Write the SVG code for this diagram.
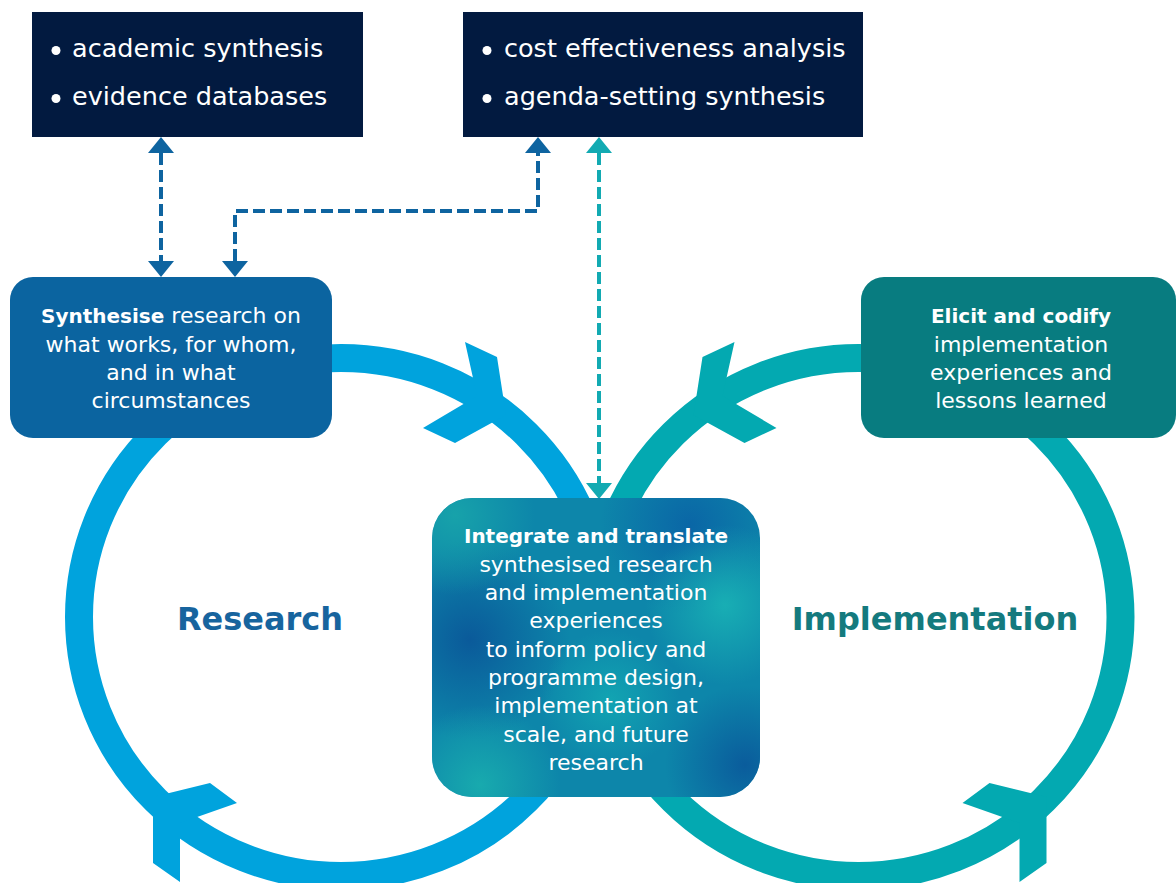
<svg xmlns="http://www.w3.org/2000/svg" width="1176" height="883" viewBox="0 0 1176 883">
<defs>
<style>
.ring{fill:none;stroke-width:28}
.navy{fill:#021a40}
.lst{font-family:"DejaVu Sans","Liberation Sans",sans-serif;font-size:25.5px;fill:#ffffff}
.bx{font-family:"DejaVu Sans","Liberation Sans",sans-serif;font-size:22px;fill:#ffffff;text-anchor:middle}
.b{font-weight:bold;font-size:20px}
.big{font-family:"DejaVu Sans","Liberation Sans",sans-serif;font-size:32px;font-weight:bold;text-anchor:middle}
.dash{fill:none;stroke-width:4;stroke-dasharray:12 5}
</style>
<radialGradient id="s1" gradientUnits="userSpaceOnUse" cx="470" cy="640" r="100"><stop offset="0" stop-color="#0a5a9a"/><stop offset="1" stop-color="#0a5a9a" stop-opacity="0"/></radialGradient>
<radialGradient id="s2" gradientUnits="userSpaceOnUse" cx="690" cy="525" r="90"><stop offset="0" stop-color="#0a66a6"/><stop offset="1" stop-color="#0a66a6" stop-opacity="0"/></radialGradient>
<radialGradient id="s3" gradientUnits="userSpaceOnUse" cx="745" cy="765" r="80"><stop offset="0" stop-color="#0a5c9c"/><stop offset="1" stop-color="#0a5c9c" stop-opacity="0"/></radialGradient>
<radialGradient id="s4" gradientUnits="userSpaceOnUse" cx="725" cy="605" r="80"><stop offset="0" stop-color="#18aeb4"/><stop offset="1" stop-color="#18aeb4" stop-opacity="0"/></radialGradient>
<radialGradient id="s5" gradientUnits="userSpaceOnUse" cx="480" cy="785" r="80"><stop offset="0" stop-color="#18aaae"/><stop offset="1" stop-color="#18aaae" stop-opacity="0"/></radialGradient>
<radialGradient id="s6" gradientUnits="userSpaceOnUse" cx="455" cy="515" r="80"><stop offset="0" stop-color="#17a2aa"/><stop offset="1" stop-color="#17a2aa" stop-opacity="0"/></radialGradient>
<radialGradient id="s7" gradientUnits="userSpaceOnUse" cx="610" cy="700" r="70"><stop offset="0" stop-color="#12a4b2"/><stop offset="1" stop-color="#12a4b2" stop-opacity="0"/></radialGradient>
<marker id="ab" viewBox="0 0 16 26" refX="0" refY="13" markerWidth="16" markerHeight="26" markerUnits="userSpaceOnUse" orient="auto-start-reverse">
<path d="M0,0 L16,13 L0,26 Z" fill="#0e64a0"/>
</marker>
<marker id="at" viewBox="0 0 16 26" refX="0" refY="13" markerWidth="16" markerHeight="26" markerUnits="userSpaceOnUse" orient="auto-start-reverse">
<path d="M0,0 L16,13 L0,26 Z" fill="#12aab2"/>
</marker>
<polygon id="headTop" points="506,415 455,443 423,428 477,396 465,342 497,357"/>
<polygon id="headBot" points="153,797 210,783 237,803 180,823 180,882 153,863"/>
<rect id="cbox" x="432" y="498" width="328" height="299" rx="40"/>
</defs>

<g id="research-cycle">
<ellipse class="ring" cx="341" cy="617" rx="262" ry="259" stroke="#00a3dd"/>
<use href="#headTop" fill="#00a3dd"/>
<use href="#headBot" fill="#00a3dd"/>
<text class="big" x="260" y="630" fill="#17649e">Research</text>
</g>

<g id="implementation-cycle">
<ellipse class="ring" cx="858.5" cy="617" rx="262" ry="259" stroke="#03a9b1"/>
<g transform="matrix(-1 0 0 1 1199.5 0)">
<use href="#headTop" fill="#03a9b1"/>
<use href="#headBot" fill="#03a9b1"/>
</g>
<text class="big" x="935" y="630" fill="#147a7e">Implementation</text>
</g>

<g id="connectors">
<path class="dash" d="M161,153 V261" stroke="#0e64a0" marker-start="url(#ab)" marker-end="url(#ab)"/>
<path class="dash" d="M235,261 V211 H538 V153" stroke="#0e64a0" marker-start="url(#ab)" marker-end="url(#ab)"/>
<path class="dash" d="M599,153 V483" stroke="#12aab2" marker-start="url(#at)" marker-end="url(#at)"/>
</g>

<g id="research-sources">
<rect class="navy" x="32" y="12" width="331" height="125"/>
<circle cx="56" cy="50.5" r="4.5" fill="#fff"/>
<circle cx="56" cy="98.5" r="4.5" fill="#fff"/>
<text class="lst" x="72" y="57">academic synthesis</text>
<text class="lst" x="72" y="105">evidence databases</text>
</g>

<g id="policy-sources">
<rect class="navy" x="463" y="12" width="400" height="125"/>
<circle cx="487" cy="50.5" r="4.5" fill="#fff"/>
<circle cx="487" cy="98.5" r="4.5" fill="#fff"/>
<text class="lst" x="504" y="57">cost effectiveness analysis</text>
<text class="lst" x="504" y="105">agenda-setting synthesis</text>
</g>

<g id="synthesise">
<rect x="10" y="277" width="322" height="161" rx="23" fill="#0b64a0"/>
<text class="bx" x="171" y="323"><tspan class="b">Synthesise</tspan> research on</text>
<text class="bx" x="171" y="352">what works, for whom,</text>
<text class="bx" x="171" y="380">and in what</text>
<text class="bx" x="171" y="408">circumstances</text>
</g>

<g id="elicit">
<rect x="861" y="277" width="315" height="161" rx="23" fill="#087c80"/>
<text class="bx" x="1021" y="323"><tspan class="b">Elicit and codify</tspan></text>
<text class="bx" x="1021" y="352">implementation</text>
<text class="bx" x="1021" y="380">experiences and</text>
<text class="bx" x="1021" y="408">lessons learned</text>
</g>

<g id="integrate">
<use href="#cbox" fill="#0d86aa"/>
<use href="#cbox" fill="url(#s1)"/>
<use href="#cbox" fill="url(#s2)"/>
<use href="#cbox" fill="url(#s3)"/>
<use href="#cbox" fill="url(#s4)"/>
<use href="#cbox" fill="url(#s5)"/>
<use href="#cbox" fill="url(#s6)"/>
<use href="#cbox" fill="url(#s7)"/>
<text class="bx" x="596" y="543"><tspan class="b">Integrate and translate</tspan></text>
<text class="bx" x="596" y="572">synthesised research</text>
<text class="bx" x="596" y="600">and implementation</text>
<text class="bx" x="596" y="628">experiences</text>
<text class="bx" x="596" y="657">to inform policy and</text>
<text class="bx" x="596" y="685">programme design,</text>
<text class="bx" x="596" y="713">implementation at</text>
<text class="bx" x="596" y="742">scale, and future</text>
<text class="bx" x="596" y="770">research</text>
</g>
</svg>
